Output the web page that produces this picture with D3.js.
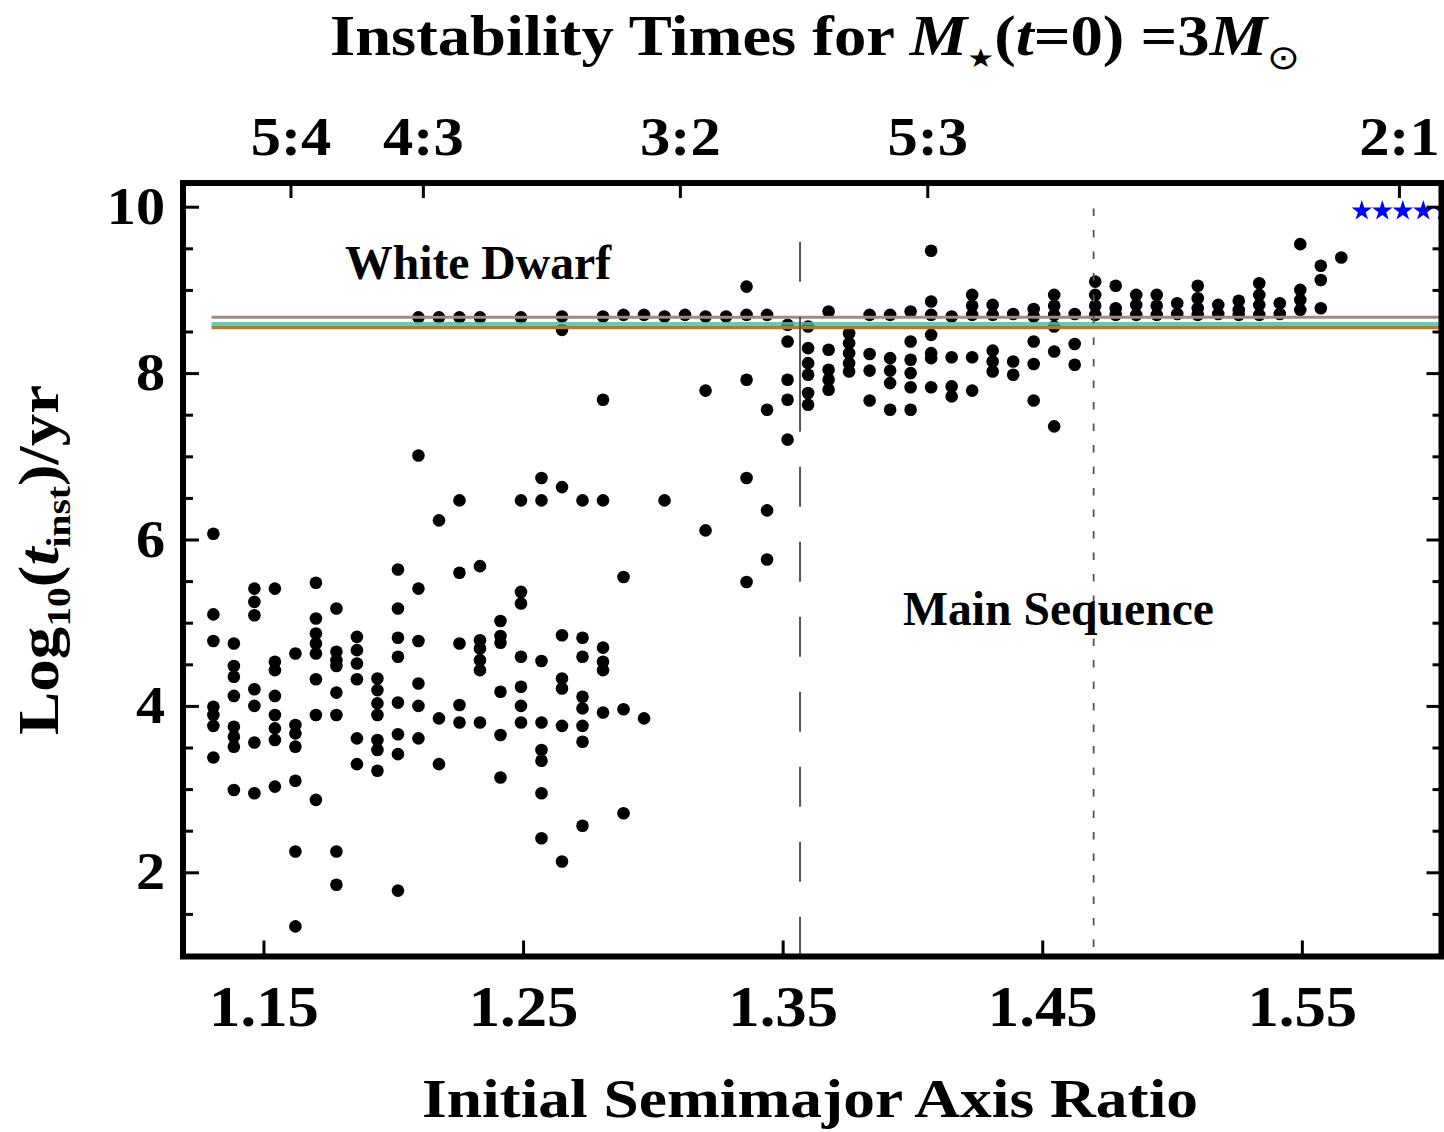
<!DOCTYPE html>
<html>
<head>
<meta charset="utf-8">
<script src="https://cdn.jsdelivr.net/npm/d3@7"></script>
<style>
  body { margin: 0; background: #fff; }
  text { font-family: "Liberation Serif", "Times New Roman", serif; font-weight: bold; fill: #000; }
</style>
</head>
<body>
<svg id="chart" width="1444" height="1132"></svg>
<script>
// ---- data ----
// x position of each sampled semimajor axis ratio (one column of runs each)
const colX = [
  1.1307, 1.1386, 1.1465, 1.1544, 1.1623, 1.1702, 1.1781, 1.1860, 1.1939, 1.2018,
  1.2097, 1.2176, 1.2255, 1.2334, 1.2413, 1.2492, 1.2571, 1.2650, 1.2729, 1.2808,
  1.2887, 1.2966, 1.3045, 1.3124, 1.3203, 1.3282, 1.3361, 1.3440, 1.3519, 1.3598,
  1.3677, 1.3756, 1.3835, 1.3914, 1.3993, 1.4072, 1.4151, 1.4230, 1.4309, 1.4388,
  1.4467, 1.4546, 1.4625, 1.4704, 1.4783, 1.4862, 1.4941, 1.5020, 1.5099, 1.5178,
  1.5257, 1.5336, 1.5415, 1.5494, 1.5573, 1.5652
];
// log10 instability times in each column
const colY = [
  [6.07, 5.10, 4.78, 3.99, 3.89, 3.76, 3.38],
  [4.75, 4.48, 4.35, 4.12, 3.75, 3.63, 3.51, 2.99],
  [5.41, 5.25, 5.09, 4.20, 4.00, 3.56, 2.95],
  [5.41, 4.53, 4.43, 4.12, 3.89, 3.73, 3.59, 3.03],
  [4.63, 3.77, 3.67, 3.51, 3.10, 2.25, 1.35],
  [5.48, 5.05, 4.87, 4.75, 4.63, 4.32, 3.89, 2.87],
  [5.17, 4.65, 4.55, 4.48, 4.16, 3.89, 2.25, 1.85],
  [4.83, 4.67, 4.51, 4.32, 3.61, 3.30],
  [4.33, 4.19, 4.03, 3.89, 3.59, 3.47, 3.22],
  [5.64, 5.17, 4.82, 4.59, 4.04, 3.66, 3.42, 1.78],
  [8.67, 7.01, 5.41, 4.78, 4.27, 4.00, 3.61],
  [8.67, 6.23, 3.85, 3.30],
  [8.67, 6.47, 5.60, 4.75, 4.01, 3.80],
  [8.67, 5.68, 4.79, 4.69, 4.55, 4.43, 3.80],
  [5.02, 4.84, 4.76, 4.17, 3.65, 3.14],
  [8.67, 6.47, 5.37, 5.23, 4.59, 4.23, 4.00, 3.80],
  [6.74, 6.47, 4.54, 3.80, 3.47, 3.34, 2.95, 2.41],
  [8.68, 8.52, 6.63, 4.85, 4.33, 4.21, 3.76, 2.13],
  [6.47, 4.82, 4.59, 4.11, 3.97, 3.76, 3.57, 2.56],
  [8.68, 7.68, 6.47, 4.70, 4.53, 4.43, 3.92],
  [8.70, 5.55, 3.96, 2.71],
  [8.70, 3.85],
  [8.68, 6.47],
  [8.70],
  [8.68, 7.79, 6.11],
  [8.68],
  [9.04, 8.70, 7.92, 6.74, 5.49],
  [8.70, 7.56, 6.35, 5.76],
  [8.58, 8.38, 7.92, 7.68, 7.20],
  [8.56, 8.30, 8.12, 7.98, 7.76, 7.62],
  [8.74, 8.28, 8.04, 7.92, 7.80],
  [8.48, 8.36, 8.24, 8.12, 8.02],
  [8.70, 8.23, 8.03, 7.67],
  [8.70, 8.18, 8.03, 7.88, 7.56],
  [8.74, 8.38, 8.16, 8.00, 7.83, 7.56],
  [9.47, 8.86, 8.70, 8.46, 8.24, 8.18, 7.83],
  [8.68, 8.19, 7.84, 7.72],
  [8.94, 8.81, 8.70, 8.19, 7.79],
  [8.82, 8.70, 8.27, 8.14, 8.02],
  [8.71, 8.14, 7.98],
  [8.77, 8.68, 8.38, 8.11, 7.67],
  [8.94, 8.81, 8.70, 8.56, 8.26, 7.36],
  [8.71, 8.35, 8.10],
  [9.10, 8.94, 8.81, 8.70],
  [9.05, 8.78, 8.70],
  [8.94, 8.82, 8.70],
  [8.94, 8.81, 8.70],
  [8.84, 8.71],
  [9.05, 8.90, 8.78, 8.70],
  [8.82, 8.71],
  [8.87, 8.76, 8.70],
  [9.08, 8.94, 8.82, 8.70],
  [8.84, 8.71],
  [9.55, 9.00, 8.88, 8.76],
  [9.29, 9.12, 8.78],
  [9.39]
];
// runs still stable at the end of the integration (blue stars)
const starX = [1.5731, 1.5810, 1.5889, 1.5968, 1.6047];
const starY = [9.95, 9.95, 9.95, 9.95, 9.95];

const yMajor = [2, 4, 6, 8, 10];
const yMinor = [1.5, 2.5, 3, 3.5, 4.5, 5, 5.5, 6.5, 7, 7.5, 8.5, 9, 9.5];
const xMajor = [1.15, 1.25, 1.35, 1.45, 1.55];
const resonanceX = [1.1604, 1.2114, 1.3104, 1.4057, 1.5874];
const resonanceLabels = ["5:4", "4:3", "3:2", "5:3", "2:1"];

// white dwarf formation levels and the two boundaries
const wdLevels = [8.671, 8.593, 8.550];
const wdColors = ["#a08b84", "#4cbf9f", "#a77a3e"];
const wdStartX = 1.1300;
const dashedX = 1.3567, dashedTop = 9.58;
const dottedX = 1.4698, dottedTop = 9.98;

// ---- layout ----
const svg = d3.select("#chart");
const plotLeft = 183, plotRight = 1441.5, plotTop = 183, plotBottom = 956.5;

const x = d3.scaleLinear().domain([1.1190, 1.6038]).range([plotLeft, plotRight]);
const y = d3.scaleLinear().domain([0.988, 10.285]).range([plotBottom, plotTop]);

svg.append("clipPath").attr("id", "plot-clip")
  .append("rect")
  .attr("x", plotLeft).attr("y", plotTop)
  .attr("width", plotRight - plotLeft).attr("height", plotBottom - plotTop);

const plot = svg.append("g").attr("clip-path", "url(#plot-clip)");

// points
const points = [];
colX.forEach((cx, i) => colY[i].forEach(v => points.push([cx, v])));

plot.selectAll("circle.run")
  .data(points)
  .join("circle")
  .attr("class", "run")
  .attr("cx", d => x(d[0]))
  .attr("cy", d => y(d[1]))
  .attr("r", 6.3)
  .attr("fill", "#000");

// stars
plot.selectAll("path.star")
  .data(starX.map((sx, i) => [sx, starY[i]]))
  .join("path")
  .attr("class", "star")
  .attr("d", d3.symbol().type(d3.symbolStar).size(130))
  .attr("transform", d => `translate(${x(d[0])},${y(d[1])})`)
  .attr("fill", "#0000ff");

// horizontal white dwarf lines (drawn over the points)
plot.selectAll("line.wd")
  .data(wdLevels)
  .join("line")
  .attr("class", "wd")
  .attr("x1", x(wdStartX)).attr("x2", x(1.6038))
  .attr("y1", d => y(d)).attr("y2", d => y(d))
  .attr("stroke", (d, i) => wdColors[i])
  .attr("stroke-width", (d, i) => i === 0 ? 3 : 3.6)
  .attr("stroke-opacity", (d, i) => i === 1 ? 0.85 : 1);

// vertical boundaries
plot.append("line")
  .attr("x1", x(dashedX)).attr("x2", x(dashedX))
  .attr("y1", y(dashedTop)).attr("y2", plotBottom)
  .attr("stroke", "#555").attr("stroke-width", 2)
  .attr("stroke-dasharray", "40,35,115,35,40,35,40,35,40,35,40,35,40,35,40,35,40,35,40,35");

plot.append("line")
  .attr("x1", x(dottedX)).attr("x2", x(dottedX))
  .attr("y1", y(dottedTop)).attr("y2", plotBottom)
  .attr("stroke", "#555").attr("stroke-width", 1.8)
  .attr("stroke-dasharray", "7.5,14");

// ---- axes ----
function styleAxis(g) {
  g.select(".domain").remove();
  g.selectAll(".tick line").attr("stroke", "#000").attr("stroke-width", 3);
  g.selectAll(".tick text").attr("fill", "#000");
  g.attr("font-family", null).attr("font-size", null);
}

// stretch text horizontally by a factor (the original type is slightly wide)
function stretch(sel, factor) {
  sel.each(function() {
    const w = this.getComputedTextLength();
    d3.select(this).attr("textLength", w * factor).attr("lengthAdjust", "spacingAndGlyphs");
  });
}

const gLeft = svg.append("g").attr("transform", `translate(${plotLeft},0)`)
  .call(d3.axisLeft(y).tickValues(yMajor).tickSize(-16).tickPadding(18).tickFormat(d3.format("d")))
  .call(styleAxis);
gLeft.selectAll(".tick text").style("font-size", "52px");
stretch(gLeft.selectAll(".tick text"), 1.12);

svg.append("g").attr("transform", `translate(${plotLeft},0)`)
  .call(d3.axisLeft(y).tickValues(yMinor).tickSize(-10).tickFormat(""))
  .call(styleAxis);

svg.append("g").attr("transform", `translate(${plotRight},0)`)
  .call(d3.axisRight(y).tickValues(yMajor).tickSize(-15).tickFormat(""))
  .call(styleAxis);
svg.append("g").attr("transform", `translate(${plotRight},0)`)
  .call(d3.axisRight(y).tickValues(yMinor).tickSize(-9).tickFormat(""))
  .call(styleAxis);

const gBottom = svg.append("g").attr("transform", `translate(0,${plotBottom})`)
  .call(d3.axisBottom(x).tickValues(xMajor).tickSize(-16).tickPadding(30).tickFormat(d3.format(".2f")))
  .call(styleAxis);
gBottom.selectAll(".tick text").style("font-size", "56px");
stretch(gBottom.selectAll(".tick text"), 1.12);

const gTop = svg.append("g").attr("transform", `translate(0,${plotTop})`)
  .call(d3.axisTop(x).tickValues(resonanceX).tickSize(-15).tickPadding(28)
    .tickFormat((d, i) => resonanceLabels[i]))
  .call(styleAxis);
gTop.selectAll(".tick text").style("font-size", "54px");
stretch(gTop.selectAll(".tick text"), 1.12);

// frame
svg.append("rect")
  .attr("x", plotLeft).attr("y", plotTop)
  .attr("width", plotRight - plotLeft).attr("height", plotBottom - plotTop)
  .attr("fill", "none").attr("stroke", "#000").attr("stroke-width", 6);

// ---- labels ----
const title = svg.append("text").attr("x", 330).attr("y", 55).style("font-size", "56px");
title.append("tspan").text("Instability Times for ");
title.append("tspan").style("font-style", "italic").text("M");
title.append("tspan").attr("dy", 12).style("font-size", "26px").style("font-family", "DejaVu Sans").text("\u2605");
title.append("tspan").attr("dy", -12).text("(");
title.append("tspan").style("font-style", "italic").text("t");
title.append("tspan").text("=0) =3");
title.append("tspan").style("font-style", "italic").text("M");
title.append("tspan").attr("dy", 14).style("font-size", "34px").style("font-family", "DejaVu Sans").style("font-weight", "normal").text("\u2299");
title.attr("textLength", 970).attr("lengthAdjust", "spacingAndGlyphs");

svg.append("text")
  .attr("x", 810).attr("y", 1117)
  .attr("text-anchor", "middle")
  .style("font-size", "54px")
  .attr("textLength", 776).attr("lengthAdjust", "spacingAndGlyphs")
  .text("Initial Semimajor Axis Ratio");

const yLabel = svg.append("text")
  .attr("transform", "translate(58,560) rotate(-90)")
  .attr("text-anchor", "middle")
  .style("font-size", "56px");
yLabel.append("tspan").text("Log");
yLabel.append("tspan").attr("dy", 12).style("font-size", "34px").text("10");
yLabel.append("tspan").attr("dy", -12).text("(");
yLabel.append("tspan").style("font-style", "italic").text("t");
yLabel.append("tspan").attr("dy", 12).style("font-size", "34px").text("inst");
yLabel.append("tspan").attr("dy", -12).text(")/yr");
yLabel.attr("textLength", 350).attr("lengthAdjust", "spacingAndGlyphs");

svg.append("text")
  .attr("x", 345).attr("y", 279)
  .style("font-size", "48px")
  .attr("textLength", 266).attr("lengthAdjust", "spacingAndGlyphs")
  .text("White Dwarf");

svg.append("text")
  .attr("x", 903).attr("y", 625)
  .style("font-size", "48px")
  .attr("textLength", 311).attr("lengthAdjust", "spacingAndGlyphs")
  .text("Main Sequence");
</script>
</body>
</html>
